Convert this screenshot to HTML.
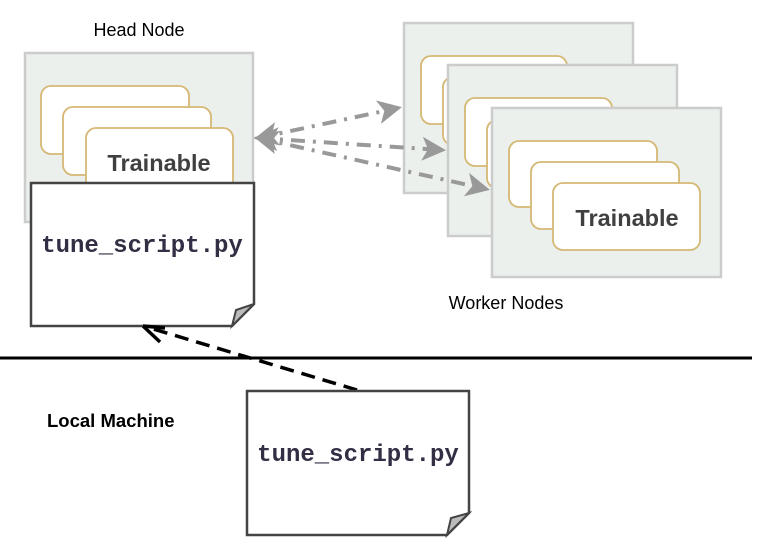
<!DOCTYPE html>
<html><head><meta charset="utf-8"><style>
html,body{margin:0;padding:0;background:#fff;}
svg{display:block;}
</style></head><body>
<svg width="765" height="554" viewBox="0 0 765 554" xmlns="http://www.w3.org/2000/svg">
<defs>
<marker id="ga" markerWidth="6" markerHeight="6" refX="5" refY="3" orient="auto" markerUnits="strokeWidth"><path d="M0,0 L6,3 L0,6 L1.5,3 Z" fill="#999"/></marker>
<marker id="gs" markerWidth="6" markerHeight="6" refX="1" refY="3" orient="auto" markerUnits="strokeWidth"><path d="M6,0 L0,3 L6,6 L4.5,3 Z" fill="#999"/></marker>
</defs>
<g font-family="Liberation Sans, sans-serif">
<text x="139" y="36" font-size="18" text-anchor="middle" fill="#000">Head Node</text>
<text x="506" y="309" font-size="18" text-anchor="middle" fill="#000">Worker Nodes</text>
<text x="47" y="427" font-size="18.5" font-weight="bold" fill="#000">Local Machine</text>
</g>
<!-- head node -->
<rect x="25" y="53" width="228" height="169" fill="#ebf0ec" stroke="#ccc" stroke-width="2.5"/>
<rect x="41" y="86" width="148" height="68" rx="10" fill="#fff" stroke="#d5b874" stroke-width="1.8"/>
<rect x="63" y="107" width="148" height="68" rx="10" fill="#fff" stroke="#d5b874" stroke-width="1.8"/>
<rect x="86" y="128" width="147" height="68" rx="10" fill="#fff" stroke="#d5b874" stroke-width="1.8"/>
<text x="159" y="171" font-family="Liberation Sans, sans-serif" font-size="23.5" font-weight="bold" fill="#404040" text-anchor="middle">Trainable</text>
<!-- head script -->
<path d="M31,183 H254 V304 L232,326 H31 Z" fill="#fff" stroke="#444" stroke-width="2.5"/>
<path d="M254,304 L232,326 L236,310 Z" fill="#bbb" stroke="#444" stroke-width="2"/>
<text x="142" y="252" font-family="Liberation Mono, monospace" font-size="24" font-weight="bold" fill="#332e44" text-anchor="middle">tune_script.py</text>
<!-- worker 1 -->
<rect x="404" y="23" width="229" height="170" fill="#ebf0ec" stroke="#ccc" stroke-width="2.5"/>
<rect x="421" y="56" width="146" height="68" rx="10" fill="#fff" stroke="#d5b874" stroke-width="1.8"/>
<rect x="443" y="77" width="146" height="68" rx="10" fill="#fff" stroke="#d5b874" stroke-width="1.8"/>
<!-- worker 2 -->
<rect x="448" y="65" width="229" height="171" fill="#ebf0ec" stroke="#ccc" stroke-width="2.5"/>
<rect x="465" y="98" width="147" height="68" rx="10" fill="#fff" stroke="#d5b874" stroke-width="1.8"/>
<rect x="487" y="120" width="147" height="68" rx="10" fill="#fff" stroke="#d5b874" stroke-width="1.8"/>
<!-- worker 3 -->
<rect x="492" y="108" width="229" height="169" fill="#ebf0ec" stroke="#ccc" stroke-width="2.5"/>
<rect x="509" y="141" width="148" height="66" rx="10" fill="#fff" stroke="#d5b874" stroke-width="1.8"/>
<rect x="531" y="162" width="148" height="67" rx="10" fill="#fff" stroke="#d5b874" stroke-width="1.8"/>
<rect x="553" y="183" width="147" height="67" rx="10" fill="#fff" stroke="#d5b874" stroke-width="1.8"/>
<text x="627" y="226" font-family="Liberation Sans, sans-serif" font-size="23.5" font-weight="bold" fill="#404040" text-anchor="middle">Trainable</text>
<!-- gray arrows -->
<g stroke="#999" stroke-width="4" fill="none" stroke-dasharray="14,8,3,8">
<line x1="258" y1="138" x2="398" y2="108" marker-start="url(#gs)" marker-end="url(#ga)"/>
<line x1="258" y1="138" x2="442" y2="150" marker-start="url(#gs)" marker-end="url(#ga)"/>
<line x1="258" y1="138" x2="486" y2="189" marker-start="url(#gs)" marker-end="url(#ga)"/>
</g>
<!-- separator -->
<line x1="0" y1="358" x2="752" y2="358" stroke="#000" stroke-width="3"/>
<!-- dashed black arrow -->
<line x1="357" y1="390" x2="150" y2="328" stroke="#000" stroke-width="3.5" stroke-dasharray="14,8"/>
<path d="M143,326 L165,328 M143,326 L160,342" stroke="#000" stroke-width="3.5" fill="none"/>
<!-- local script -->
<path d="M247,391 H469 V513 L447,535 H247 Z" fill="#fff" stroke="#444" stroke-width="2.5"/>
<path d="M469,513 L447,535 L451,518 Z" fill="#bbb" stroke="#444" stroke-width="2"/>
<text x="358" y="461" font-family="Liberation Mono, monospace" font-size="24" font-weight="bold" fill="#332e44" text-anchor="middle">tune_script.py</text>
</svg>
</body></html>
